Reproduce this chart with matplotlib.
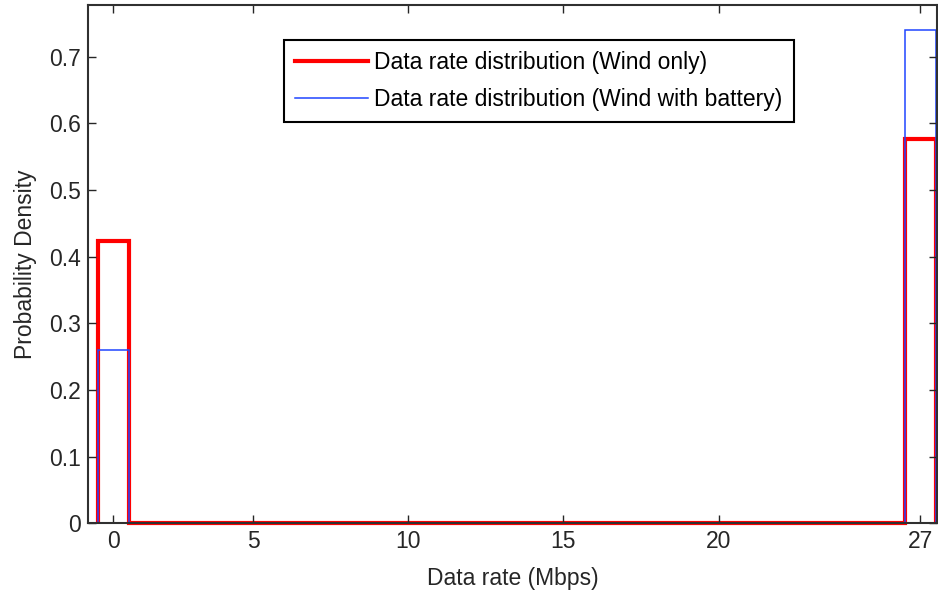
import matplotlib.pyplot as plt

plt.rcParams['font.family'] = ['Liberation Sans', 'DejaVu Sans']

# histogram bins (edges) and probability densities per bin
bin_edges = [0, 1, 26, 27]
wind_only = [0.423, 0.0, 0.577]
wind_battery = [0.26, 0.0, 0.74]

xtick_pos = [0.5, 5, 10, 15, 20, 26.5]
xtick_labels = ['0', '5', '10', '15', '20', '27']
ytick_vals = [0, 0.1, 0.2, 0.3, 0.4, 0.5, 0.6, 0.7]
ytick_labels = ['0', '0.1', '0.2', '0.3', '0.4', '0.5', '0.6', '0.7']

fs = 16.5

fig = plt.figure(figsize=(9.38, 5.97), dpi=100)
ax = fig.add_axes([0.0941, 0.1234, 0.9044, 0.8682])

ax.stairs(wind_only, bin_edges, baseline=0, color='red', linewidth=3,
          label='Data rate distribution (Wind only)', clip_on=False)
ax.stairs(wind_battery, bin_edges, baseline=0, color='#1f45ff', linewidth=1.1,
          label='Data rate distribution (Wind with battery)', clip_on=False)

ax.set_xlim(-0.31, 27.02)
ax.set_ylim(0, 0.7775)
ax.set_xticks(xtick_pos)
ax.set_xticklabels(xtick_labels)
ax.set_yticks(ytick_vals)
ax.set_yticklabels(ytick_labels)

ax.tick_params(direction='in', length=6, width=1, top=True, right=True,
               labelsize=fs, colors='#262626', pad=5)
for s in ax.spines.values():
    s.set_linewidth(1.5)
    s.set_color('#303030')

ax.set_xlabel('Data rate (Mbps)', fontsize=fs, color='#262626', labelpad=10)
ax.set_ylabel('Probability Density', fontsize=fs, color='#262626', labelpad=9)

leg = ax.legend(loc='upper left', bbox_to_anchor=(0.2307, 0.9325), fontsize=fs,
                fancybox=False, framealpha=1, edgecolor='black',
                handlelength=3.15, handletextpad=0.3, borderpad=0.5,
                labelspacing=0.58, borderaxespad=0)
leg.get_frame().set_linewidth(1.5)

fig.savefig('out.png', dpi=100)
